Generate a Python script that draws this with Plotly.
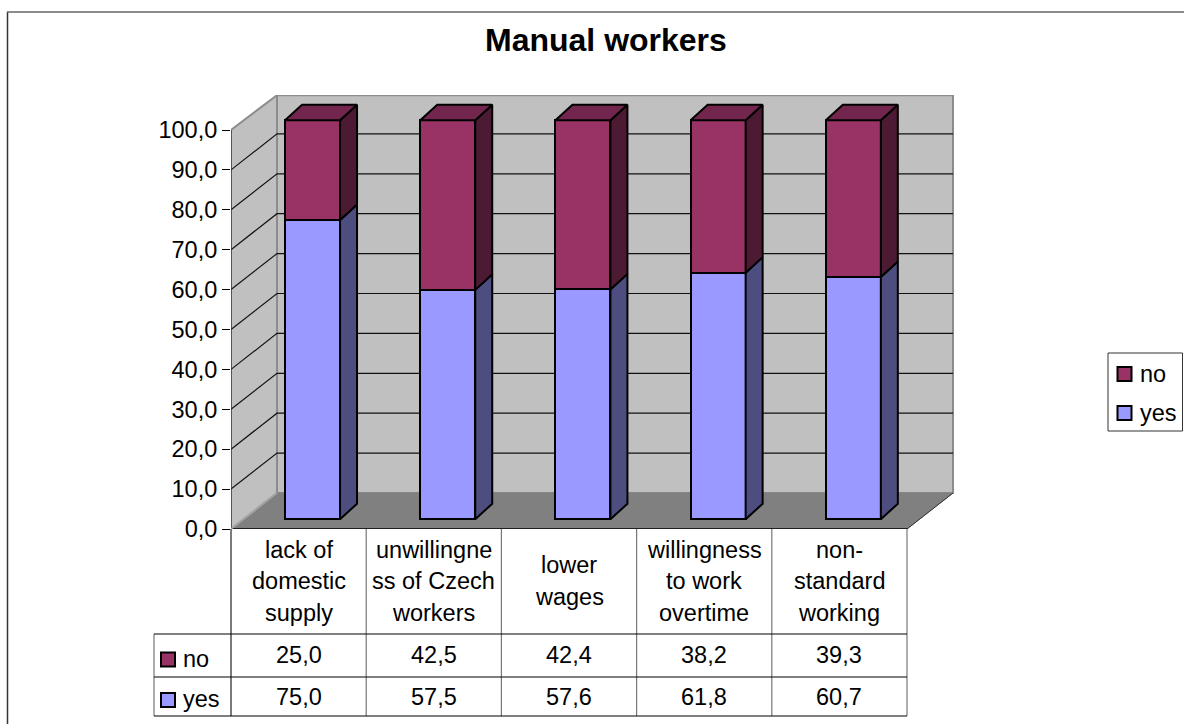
import plotly.graph_objects as go

CATEGORY_LINES = [
    ["lack of", "domestic", "supply"],
    ["unwillingne", "ss of Czech", "workers"],
    ["lower", "wages"],
    ["willingness", "to work", "overtime"],
    ["non-", "standard", "working"],
]
NO_VALUES = [25.0, 42.5, 42.4, 38.2, 39.3]
YES_VALUES = [75.0, 57.5, 57.6, 61.8, 60.7]
Y_TICKS = [0, 10, 20, 30, 40, 50, 60, 70, 80, 90, 100]

FONT = "Liberation Sans"
W, H = 1184, 724

# plot box in pixels: front of the floor is (231, 529), back wall ends at (954, 95)
PX_LEFT, PX_RIGHT, PX_TOP, PX_BOTTOM = 231, 954, 95, 529
PX_PER_CAT = 135.2
PX_PER_UNIT = 3.99

X_MAX = (PX_RIGHT - PX_LEFT) / PX_PER_CAT
Y_MAX = (PX_BOTTOM - PX_TOP) / PX_PER_UNIT
# depth of the walls and of the bars, in axis units
WALL_DX = 46 / PX_PER_CAT
WALL_DY = 36 / PX_PER_UNIT
BAR_DX = 17 / PX_PER_CAT
BAR_DY = 15.6 / PX_PER_UNIT
# bars stand a little behind the front edge of the floor
BAR_LIFT = 9.7 / PX_PER_UNIT
BAR_WIDTH = 55 / PX_PER_CAT
BAR_SHIFT = 0.103

N = len(NO_VALUES)
x_centers = [i + 0.5 + BAR_SHIFT for i in range(N)]


def px(x):
    return x / W


def py(y):
    return 1 - y / H


def polygon(xs, ys, fill, line_color, line_width, yaxis="y"):
    return go.Scatter(
        x=xs + xs[:1], y=ys + ys[:1], mode="lines", fill="toself", fillcolor=fill,
        line=dict(color=line_color, width=line_width), hoverinfo="skip",
        showlegend=False, yaxis=yaxis,
    )


def plain_line(xs, ys, color, width):
    return go.Scatter(
        x=xs, y=ys, mode="lines", line=dict(color=color, width=width),
        hoverinfo="skip", showlegend=False,
    )


fig = go.Figure()

# walls and floor
fig.add_trace(polygon([WALL_DX, N + WALL_DX, N + WALL_DX, WALL_DX],
                      [WALL_DY, WALL_DY, 100 + WALL_DY - 0.3, 100 + WALL_DY - 0.3], "#C0C0C0", "#8C8C8C", 2))
fig.add_trace(polygon([0, WALL_DX, WALL_DX, 0],
                      [0, WALL_DY, 100 + WALL_DY - 0.3, 100], "#C0C0C0", "#8C8C8C", 2))
fig.add_trace(polygon([0, N, N + WALL_DX, WALL_DX],
                      [0, 0, WALL_DY, WALL_DY], "#808080", "#808080", 1))

# gridlines run along the side wall and the back wall
for tick in Y_TICKS[1:-1]:
    fig.add_trace(plain_line([0, WALL_DX, N + WALL_DX],
                             [tick, tick + WALL_DY, tick + WALL_DY], "#111111", 1.2))

fig.add_trace(plain_line([0, 0], [0, 100], "#333333", 1.2))
fig.add_trace(plain_line([0, N], [0, 0], "#000000", 1.6))
fig.add_trace(plain_line([N, N + WALL_DX], [0, WALL_DY], "#333333", 1))
fig.add_trace(plain_line([0, WALL_DX], [0, WALL_DY], "#A8A8A8", 1.5))

# front faces
fig.add_trace(go.Bar(x=x_centers, y=YES_VALUES, name="yes", width=BAR_WIDTH, yaxis="y2",
                     marker=dict(color="#9999FF", line=dict(color="#000000", width=2)),
                     showlegend=False))
fig.add_trace(go.Bar(x=x_centers, y=NO_VALUES, name="no", width=BAR_WIDTH, yaxis="y2",
                     marker=dict(color="#993366", line=dict(color="#000000", width=2)),
                     showlegend=False))

# side and top faces, worked out from the values
for xc, yes, no in zip(x_centers, YES_VALUES, NO_VALUES):
    right = xc + BAR_WIDTH / 2
    left = xc - BAR_WIDTH / 2
    top = yes + no
    fig.add_trace(polygon([right, right + BAR_DX, right + BAR_DX, right],
                          [0, BAR_DY, yes + BAR_DY, yes], "#4D4D80", "#000000", 2, "y2"))
    fig.add_trace(polygon([right, right + BAR_DX, right + BAR_DX, right],
                          [yes, yes + BAR_DY, top + BAR_DY, top], "#4D1A33", "#000000", 2, "y2"))
    fig.add_trace(polygon([left, right, right + BAR_DX, left + BAR_DX],
                          [top, top, top + BAR_DY, top + BAR_DY], "#73264D", "#000000", 2, "y2"))

annotations = [
    dict(text="<b>Manual workers</b>", x=px(606), y=py(40), xref="paper", yref="paper",
         showarrow=False, xanchor="center", yanchor="middle",
         font=dict(family=FONT, size=32, color="#000000")),
]
shapes = []


def text_at(text, x, y, anchor="center"):
    annotations.append(dict(text=text, x=px(x), y=py(y), xref="paper", yref="paper",
                            showarrow=False, xanchor=anchor, yanchor="middle",
                            font=dict(family=FONT, size=23.5, color="#000000")))


def rule(x0, y0, x1, y1, color="#000000", width=1):
    shapes.append(dict(type="line", xref="paper", yref="paper", x0=px(x0), x1=px(x1),
                       y0=py(y0), y1=py(y1), line=dict(color=color, width=width)))


def key(x, y, color):
    shapes.append(dict(type="rect", xref="paper", yref="paper", x0=px(x), x1=px(x + 14),
                       y0=py(y), y1=py(y + 14), fillcolor=color,
                       line=dict(color="#000000", width=2)))


# frame of the chart: only the left and top edges show
rule(7.5, 12, 7.5, 724, "#333333", 1.5)
rule(7, 12, 1184, 12, "#666666", 1.5)

# data table under the plot
TABLE_X = [PX_LEFT + i * PX_PER_CAT for i in range(N + 1)]
for i, x in enumerate(TABLE_X):
    rule(x, 529, x, 716, "#222222" if i == 0 else "#777777", 1.2)
rule(154, 634, 154, 716, "#777777", 1.2)
rule(154, 634, TABLE_X[-1], 634)
rule(154, 677, TABLE_X[-1], 677)
rule(154, 716, TABLE_X[-1], 716)

for i, lines in enumerate(CATEGORY_LINES):
    mid = TABLE_X[i] + PX_PER_CAT / 2
    first = 581 - (len(lines) - 1) * 31.5 / 2
    for j, line in enumerate(lines):
        text_at(line, mid, first + j * 31.5)
    text_at(f"{NO_VALUES[i]:.1f}".replace(".", ","), mid, 655)
    text_at(f"{YES_VALUES[i]:.1f}".replace(".", ","), mid, 697)

key(161, 652.5, "#993366")
text_at("no", 181, 659, "left")
key(161, 693, "#9999FF")
text_at("yes", 181, 699, "left")

# legend box
shapes.append(dict(type="rect", xref="paper", yref="paper", x0=px(1108), x1=px(1182.5),
                   y0=py(353), y1=py(431), line=dict(color="#333333", width=1)))
key(1117.5, 367, "#993366")
text_at("no", 1138, 374, "left")
key(1117.5, 406, "#9999FF")
text_at("yes", 1138, 413, "left")

fig.update_layout(
    width=W, height=H,
    margin=dict(l=0, r=0, t=0, b=0),
    paper_bgcolor="#FFFFFF", plot_bgcolor="rgba(0,0,0,0)",
    barmode="stack", bargap=0, showlegend=False,
    separators=",.",
    annotations=annotations, shapes=shapes,
    xaxis=dict(domain=[px(PX_LEFT), px(PX_RIGHT)], range=[0, X_MAX], visible=False, automargin=False),
    yaxis=dict(
        domain=[py(PX_BOTTOM), py(PX_TOP)], range=[0, Y_MAX], automargin=False,
        tickmode="array", tickvals=Y_TICKS, tickformat=".1f",
        ticks="outside", ticklen=8, tickwidth=1, tickcolor="#000000",
        tickfont=dict(family=FONT, size=23.5, color="#000000"),
        showgrid=False, zeroline=False, showline=False,
    ),
    yaxis2=dict(
        domain=[py(PX_BOTTOM), py(PX_TOP)], range=[-BAR_LIFT, Y_MAX - BAR_LIFT],
        overlaying="y", visible=False, automargin=False,
    ),
)

fig.write_html("out.html", config=dict(displayModeBar=False),
               post_script="document.body.style.margin='0';")
